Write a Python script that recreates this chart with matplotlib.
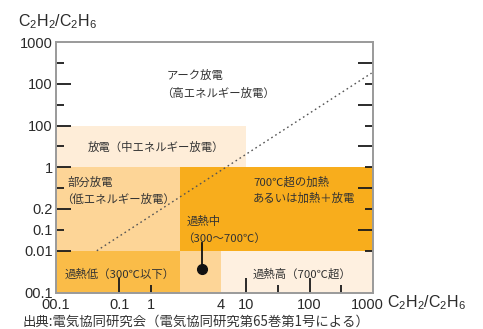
import matplotlib
matplotlib.use("Agg")
import matplotlib.pyplot as plt
import matplotlib.transforms as mtransforms
import numpy as np

plt.rcParams['mathtext.fontset'] = 'custom'
plt.rcParams['mathtext.rm'] = 'Liberation Sans'
plt.rcParams['mathtext.it'] = 'Liberation Sans'

CJK = ['Noto Sans CJK JP', 'DejaVu Sans']
NUM = ['Liberation Sans', 'DejaVu Sans']

# ---------------- data ----------------
region_x0 = [0.01, 0.01, 0.9, 0.01, 0.9, 4]
region_x1 = [10, 0.9, 1000, 0.9, 4, 1000]
region_y0 = [1, 0.01, 0.01, 0.001, 0.001, 0.001]
region_y1 = [10, 1, 1, 0.01, 0.01, 0.01]
region_names = ['mid_discharge', 'partial_discharge', 'hot', 'low_heat', 'mid_bottom', 'high_heat']

# dotted boundary line
line_x = [0.044, 950]
line_y = [0.01, 180]

# example point with leader
point_x = [2.0]
point_y = [0.0036]
leader_y = [0.0036, 0.015]

# ticks
xtick_vals = [0.01, 0.1, 10**-0.5, 4, 10, 10**1.5, 100, 10**2.5, 1000]
xtick_labels = ['00.1', '0.1', '1', '4', '10', '', '100', '', '1000']
ytick_vals = [0.001, 0.01, 10**-1.5, 0.1, 10**-0.5, 1, 10**0.5, 10, 10**1.5, 100, 10**2.5, 1000]
ytick_labels = ['00.1', '0.01', '0.1', '0.2', '', '1', '', '100', '', '100', '', '1000']

# ---------------- style ----------------
colors = {
    'mid_discharge': '#FEEDD8',
    'partial_discharge': '#FDD597',
    'hot': '#F8AD1C',
    'low_heat': '#FABC48',
    'mid_bottom': '#FDD597',
    'high_heat': '#FEF0E0',
}
xtick_len = [0, 11, 6, 0, 11, 6, 11, 6, 0]
ytick_len_left = [0, 11, 6, 11, 6, 11, 6, 11, 6, 11, 6, 0]
ytick_len_right = [0, 6, 11, 6, 11, 6, 11, 6, 11, 6, 11, 0]

W, H = 483, 329
fig = plt.figure(figsize=(W / 100, H / 100), dpi=100)
L, R, T, B = 56, 373, 42, 292.5
ax = fig.add_axes([L / W, 1 - B / H, (R - L) / W, (B - T) / H])
ax.set_xscale('log')
ax.set_yscale('log')
ax.set_xlim(0.01, 1000)
ax.set_ylim(0.001, 1000)

for x0, x1, y0, y1, n in zip(region_x0, region_x1, region_y0, region_y1, region_names):
    ax.fill_between([x0, x1], [y0, y0], [y1, y1], color=colors[n], lw=0, zorder=1)

ax.plot(line_x, line_y, color='#555555', lw=1.0, linestyle=(0, (1.2, 2.2)), zorder=3)
ax.plot([point_x[0], point_x[0]], leader_y, color='#111111', lw=1.3, zorder=4)
ax.plot(point_x, point_y, 'o', color='#111111', ms=7, zorder=5)

for s in ax.spines.values():
    s.set_color('#9a9a9a')
    s.set_linewidth(1.4)
    s.set_zorder(6)

ax.xaxis.set_minor_locator(matplotlib.ticker.NullLocator())
ax.yaxis.set_minor_locator(matplotlib.ticker.NullLocator())
ax.set_xticks(xtick_vals)
ax.set_xticklabels(xtick_labels)
ax.set_yticks(ytick_vals)
ax.set_yticklabels(ytick_labels)
ax.tick_params(axis='both', direction='in', width=1.3, color='#1a1a1a', labelsize=10.5,
               labelcolor='#2a2a2a')
ax.tick_params(axis='x', pad=4)
ax.tick_params(axis='y', pad=2.5, right=True, labelright=False)
for lab in ax.get_xticklabels() + ax.get_yticklabels():
    lab.set_family(NUM)

# nudge the last x label left a little, as in the reference
last = ax.get_xticklabels()[-1]
last.set_transform(last.get_transform() + mtransforms.ScaledTranslation(-6 / 100, 0, fig.dpi_scale_trans))

for t, ln in zip(ax.xaxis.get_major_ticks(), xtick_len):
    t.tick1line.set_markersize(ln)
    t.tick1line.set_visible(ln > 0)
    t.tick1line.set_zorder(7)
for t, ln, rn in zip(ax.yaxis.get_major_ticks(), ytick_len_left, ytick_len_right):
    t.tick1line.set_markersize(ln)
    t.tick1line.set_visible(ln > 0)
    t.tick2line.set_markersize(rn)
    t.tick2line.set_visible(rn > 0)

def fx(px):
    return (px - L) / (R - L)

def fy(py):
    return (B - py) / (B - T)

txt_kw = dict(transform=ax.transAxes, family=CJK, fontsize=8.2, color='#333333',
              ha='left', va='center', zorder=8)
labels = [
    ('アーク放電', 167, 75),
    ('（高エネルギー放電）', 161, 93),
    ('放電（中エネルギー放電）', 88, 147),
    ('部分放電', 67, 182),
    ('（低エネルギー放電）', 61, 199),
    ('過熱中', 187, 221),
    ('（300～700℃）', 182, 238),
    ('700℃超の加熱', 253, 182),
    ('あるいは加熱＋放電', 253, 198),
    ('過熱低（300℃以下）', 65, 274),
    ('過熱高（700℃超）', 253, 274),
]
for s, px, py in labels:
    ax.text(fx(px), fy(py), s, **txt_kw)

axis_label = r'$\mathrm{C_2H_2/C_2H_6}$'
fig.text(18 / W, 1 - 22 / H, axis_label, fontsize=11.5, color='#2a2a2a', ha='left', va='center')
fig.text(387 / W, 1 - 303 / H, axis_label, fontsize=11.5, color='#2a2a2a', ha='left', va='center')

fig.text(22 / W, 1 - 322 / H, '出典:電気協同研究会（電気協同研究第65巻第1号による）',
         family=CJK, fontsize=9.6, color='#333333', ha='left', va='center')

fig.savefig('out.png', dpi=100)
